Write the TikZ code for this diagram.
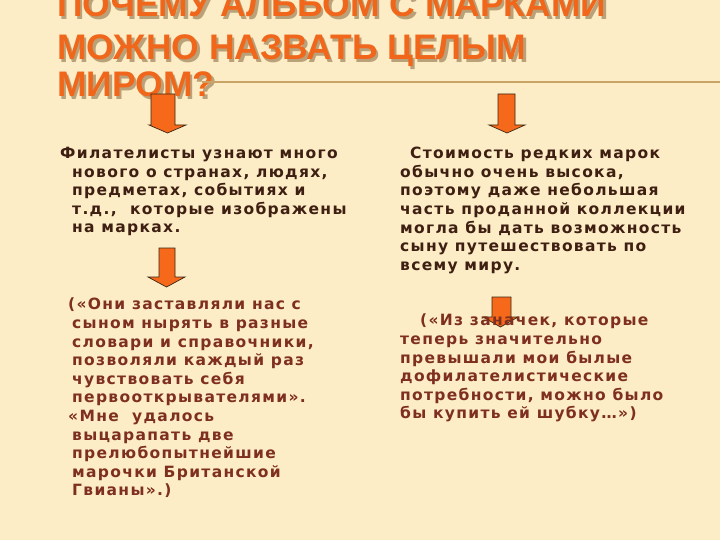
\documentclass[tikz,border=0pt]{standalone}
\usepackage{fontspec}
\setmainfont{DejaVu Sans}[LetterSpace=8.5]
\newfontfamily\titlefont{Liberation Sans}
\definecolor{bg}{HTML}{FCEDC6}
\definecolor{ttl}{HTML}{F0671C}
\definecolor{shd}{HTML}{B9A27A}
\definecolor{dark}{HTML}{3E1F12}
\definecolor{maroon}{HTML}{7E2F1F}
\definecolor{rule}{HTML}{C9A466}
\definecolor{arr}{HTML}{F6691A}
\tikzset{
 para/.style={anchor=north west, align=left, inner sep=0pt, font=\bfseries\fontsize{15.5}{18.6}\selectfont},
 ttltext/.style={anchor=base west, inner sep=0pt, font=\titlefont\bfseries\fontsize{35.5}{35.5}\selectfont, text=ttl},
 ttlshadow/.style={ttltext, text=shd},
 downarrow/.style={fill=arr, draw=black!70!brown, line width=0.7pt}
}
\begin{document}
\begin{tikzpicture}[x=1pt,y=-1pt]
\fill[bg] (0,0) rectangle (720,540);
\useasboundingbox (0,0) rectangle (720,540);
% title
\node[ttlshadow] at (59.5,19.5) {ПОЧЕМУ АЛЬБОМ С МАРКАМИ};
\node[ttlshadow] at (59.5,62.5) {МОЖНО НАЗВАТЬ ЦЕЛЫМ};
\node[ttlshadow] at (59.5,99.5) {МИРОМ?};
\node[ttltext] (t1) at (57,17) {ПОЧЕМУ АЛЬБОМ С МАРКАМИ};
\node[ttltext] (t2) at (57,60) {МОЖНО НАЗВАТЬ ЦЕЛЫМ};
\node[ttltext] (t3) at (57,97) {МИРОМ?};
\draw[rule, line width=1.5pt] (202,82) -- (720,82);
% arrows
\foreach \sx/\ex/\hl/\hr/\ty/\hy/\py in {151/175/149/186/94/125/133, 498/515/489/525/94/125/133, 159/175/148/185/248/277/287, 492/511/483/518/297/317/327}{
 \draw[downarrow] (\sx,\ty) -- (\ex,\ty) -- (\ex,\hy) -- (\hr,\hy) -- ({(\hl+\hr)/2},\py) -- (\hl,\hy) -- (\sx,\hy) -- cycle;
}
% columns
\node[para, text=dark] (c1) at (60,147) {Филателисты узнают много\\
\hspace*{12pt}нового о странах, людях,\\
\hspace*{12pt}предметах, событиях и\\
\hspace*{12pt}т.д., \ которые изображены\\
\hspace*{12pt}на марках.};
\node[para, text=dark] (c2) at (410,147) {Стоимость редких марок\\
\hspace*{-10pt}обычно очень высока,\\
\hspace*{-10pt}поэтому даже небольшая\\
\hspace*{-10pt}часть проданной коллекции\\
\hspace*{-10pt}могла бы дать возможность\\
\hspace*{-10pt}сыну путешествовать по\\
\hspace*{-10pt}всему миру.};
\node[para, text=maroon] (q1) at (68,298) {(«Они заставляли нас с\\
\hspace*{4pt}сыном нырять в разные\\
\hspace*{4pt}словари и справочники,\\
\hspace*{4pt}позволяли каждый раз\\
\hspace*{4pt}чувствовать себя\\
\hspace*{4pt}первооткрывателями».\\
«Мне \ удалось\\
\hspace*{4pt}выцарапать две\\
\hspace*{4pt}прелюбопытнейшие\\
\hspace*{4pt}марочки Британской\\
\hspace*{4pt}Гвианы».)};
\node[para, text=maroon] (q2) at (420,314) {(«Из заначек, которые\\
\hspace*{-20pt}теперь значительно\\
\hspace*{-20pt}превышали мои былые\\
\hspace*{-20pt}дофилателистические\\
\hspace*{-20pt}потребности, можно было\\
\hspace*{-20pt}бы купить ей шубку…»)};
\end{tikzpicture}
\end{document}
